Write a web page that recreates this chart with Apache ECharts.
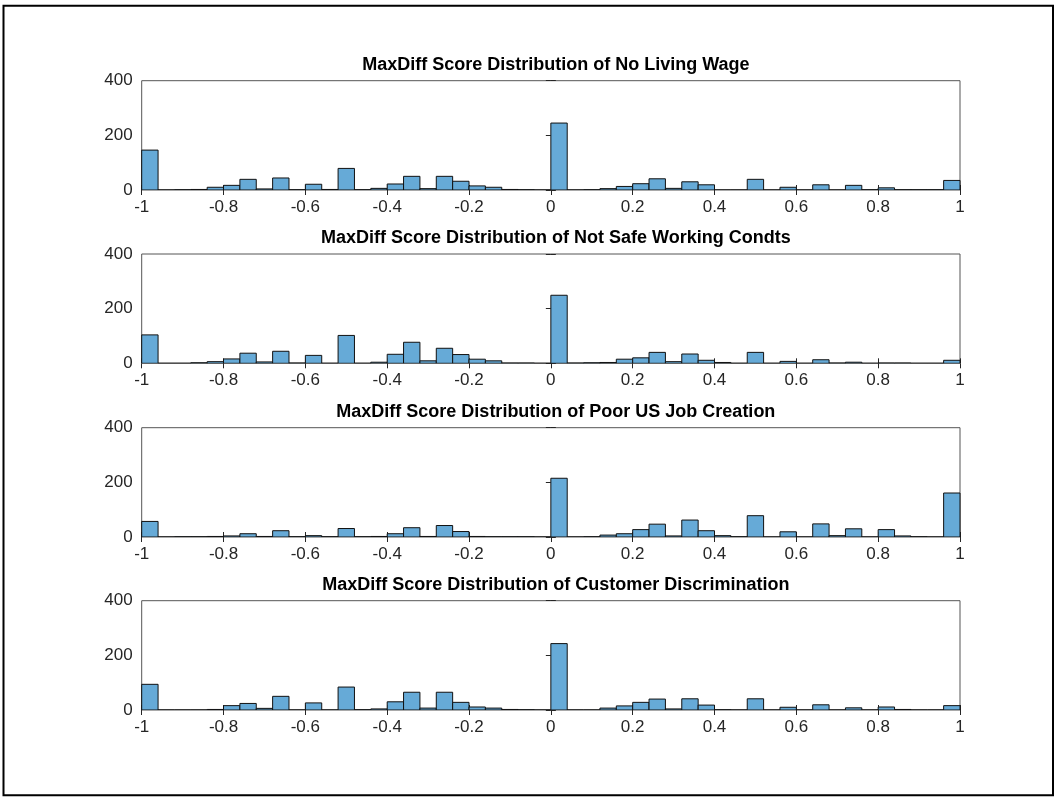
<!DOCTYPE html>
<html>
<head>
<meta charset="utf-8">
<script src="https://cdn.jsdelivr.net/npm/echarts@6/dist/echarts.min.js"></script>
<style>
  html, body { margin: 0; padding: 0; background: #fff; }
  #chart { width: 1061px; height: 803px; }
</style>
</head>
<body>
<div id="chart"></div>
<script>
// histogram bins: 50 bins of width 0.04 from -1 to 1
var binStart = -1;
var binWidth = 0.04;

var titles = [
  'MaxDiff Score Distribution of No Living Wage',
  'MaxDiff Score Distribution of Not Safe Working Condts',
  'MaxDiff Score Distribution of Poor US Job Creation',
  'MaxDiff Score Distribution of Customer Discrimination'
];

// counts per bin
var noLivingWage = [146,0,1,2,10,17,39,4,44,1, 21,2,79,1,6,22,50,5,50,32, 15,10,2,1,0,
  245,0,1,5,13,23,41,6,30,19, 0,0,39,0,10,0,19,0,17,1, 8,1,1,1,35];
var notSafeWorking = [104,0,0,2,6,16,37,5,44,1, 29,0,102,0,4,33,77,9,55,32, 15,9,1,1,0,
  249,1,2,3,15,20,40,6,34,11, 3,0,40,0,7,0,13,1,4,0, 1,1,0,0,11];
var poorJobCreation = [57,0,1,1,2,4,12,2,23,1, 5,1,31,1,2,12,34,2,42,20, 2,1,1,1,0,
  215,0,1,7,12,27,47,4,62,23, 5,1,78,0,19,0,48,5,30,0, 27,4,1,0,161];
var customerDiscrim = [94,0,0,0,2,16,24,6,50,0, 26,0,84,1,4,30,65,7,65,28, 11,7,2,1,0,
  243,0,0,7,15,28,40,4,41,18, 1,0,41,0,10,0,19,0,8,0, 11,2,0,0,16];

var allCounts = [noLivingWage, notSafeWorking, poorJobCreation, customerDiscrim];

var yTicks = [0, 200, 400];

var chart = echarts.init(document.getElementById('chart'), null, {renderer: 'canvas'});

var gridTops = [80.7, 254, 427.7, 600.7];
var gridH = 109.3;
var gridLeft = 141.7;
var gridW = 818.3;
var font = '"Liberation Sans", Arial, Helvetica, sans-serif';
var axisCol = '#262626';

function renderBin(params, api) {
  var x0 = api.value(0), x1 = api.value(1), h = api.value(2);
  var p0 = api.coord([x0, h]);
  var p1 = api.coord([x1, 0]);
  return {
    type: 'rect',
    shape: {x: p0[0], y: p0[1], width: p1[0] - p0[0], height: p1[1] - p0[1]},
    style: {fill: '#66aad7', stroke: '#111', lineWidth: 1}
  };
}

var grids = [], xAxes = [], yAxes = [], series = [], titleOpts = [];

allCounts.forEach(function (counts, k) {
  grids.push({
    left: gridLeft, top: gridTops[k], width: gridW, height: gridH,
    show: true, borderColor: '#555', borderWidth: 1, backgroundColor: '#fff',
    containLabel: false, outerBoundsMode: 'none'
  });
  titleOpts.push({
    text: titles[k],
    left: gridLeft + gridW / 2, top: gridTops[k] - 30, textAlign: 'center',
    textStyle: {fontFamily: font, fontSize: 18, fontWeight: 'bold', color: '#000'}
  });
  // bottom x axis with labels
  xAxes.push({
    type: 'value', gridIndex: k, min: -1, max: 1, interval: 0.2, position: 'bottom',
    splitLine: {show: false}, axisLine: {show: false},
    axisTick: {show: true, inside: true, length: 5, lineStyle: {color: axisCol}},
    axisLabel: {
      show: true, margin: 9, fontFamily: font, fontSize: 17, color: axisCol,
      formatter: function (v) { return String(Math.round(v * 10) / 10); }
    }
  });
  // top x axis, ticks only
  xAxes.push({
    type: 'value', gridIndex: k, min: -1, max: 1, interval: 0.2, position: 'top',
    splitLine: {show: false}, axisLine: {show: false}, axisLabel: {show: false},
    axisTick: {show: true, inside: true, length: 5, lineStyle: {color: axisCol}}
  });
  yAxes.push({
    type: 'value', gridIndex: k, min: yTicks[0], max: yTicks[yTicks.length - 1], interval: 200,
    position: 'left',
    splitLine: {show: false}, axisLine: {show: false},
    axisTick: {show: true, inside: true, length: 5, lineStyle: {color: axisCol}},
    axisLabel: {show: true, margin: 9, fontFamily: font, fontSize: 17, color: axisCol}
  });
  yAxes.push({
    type: 'value', gridIndex: k, min: 0, max: 400, interval: 200, position: 'right',
    splitLine: {show: false}, axisLine: {show: false}, axisLabel: {show: false},
    axisTick: {show: true, inside: true, length: 5, lineStyle: {color: axisCol}}
  });

  var data = counts.map(function (c, i) {
    var a = binStart + binWidth * i;
    return [a, a + binWidth, c];
  });
  series.push({
    type: 'custom', xAxisIndex: 2 * k, yAxisIndex: 2 * k,
    renderItem: renderBin, encode: {x: [0, 1], y: 2},
    data: data, silent: true, clip: true
  });
});

chart.setOption({
  animation: false,
  backgroundColor: '#fff',
  title: titleOpts,
  grid: grids,
  xAxis: xAxes,
  yAxis: yAxes,
  series: series,
  graphic: [{
    type: 'rect', silent: true,
    shape: {x: 3.5, y: 5.7, width: 1049.5, height: 789.5},
    style: {fill: 'none', stroke: '#000', lineWidth: 2}
  }]
});
</script>
</body>
</html>
